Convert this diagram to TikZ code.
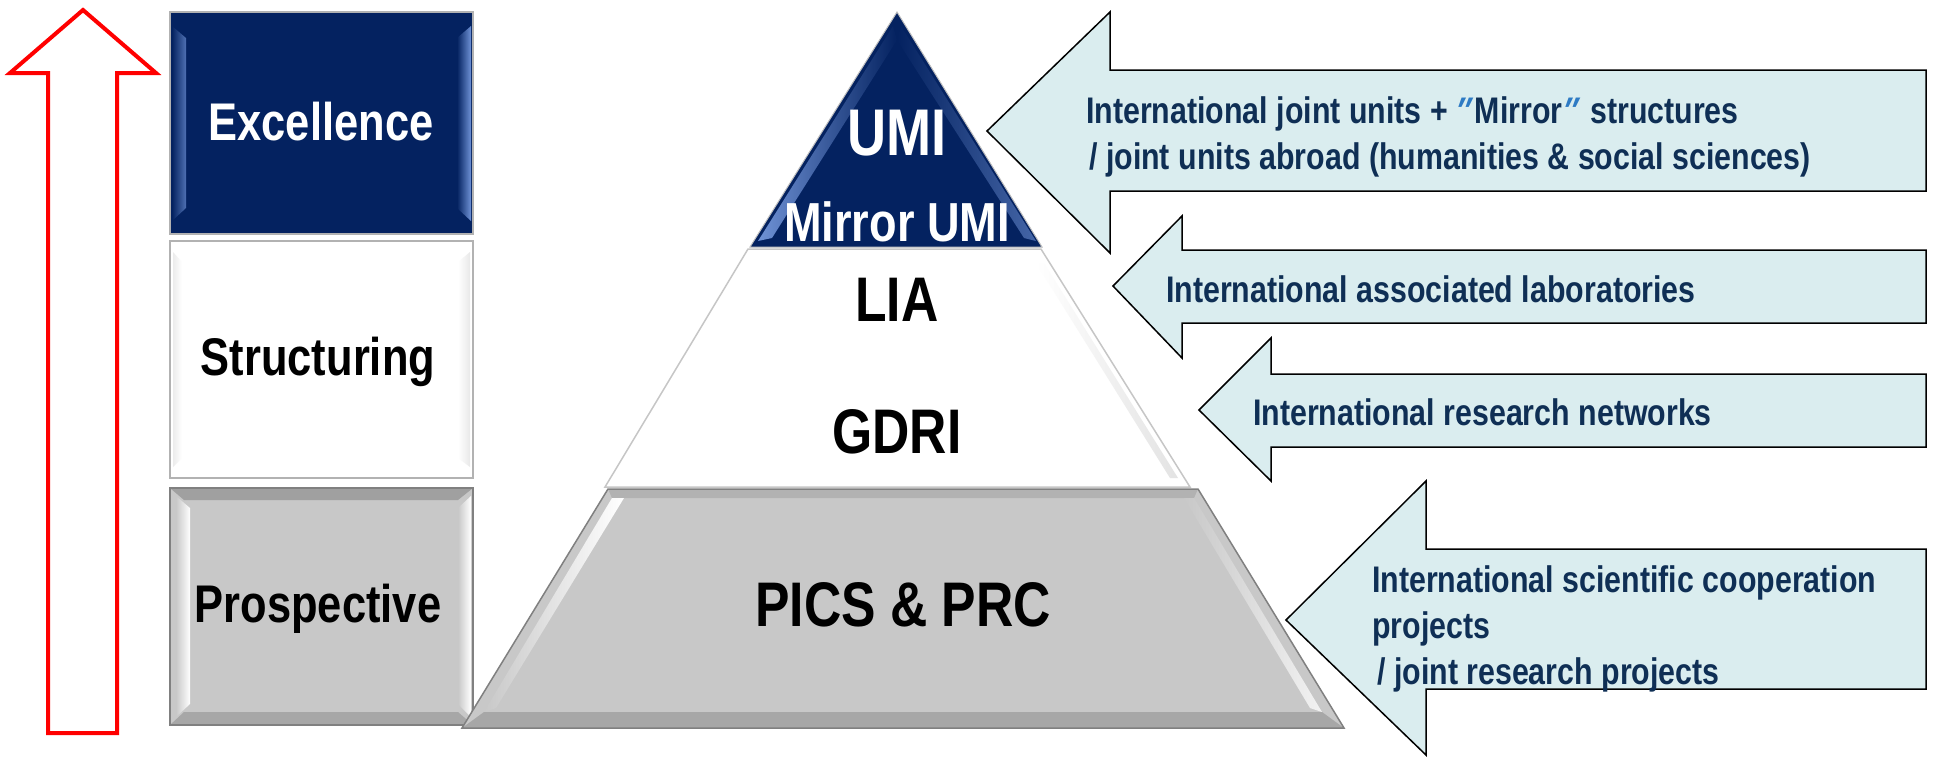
\documentclass[tikz,border=0pt]{standalone}
\usepackage{fontspec}
\setmainfont[FakeStretch=0.82]{Liberation Sans}
\definecolor{umiblue}{HTML}{042260}
\definecolor{umilight}{HTML}{6F92D6}
\definecolor{boxgray}{HTML}{C8C8C8}
\definecolor{arrowfill}{HTML}{DAEDEF}
\definecolor{txtnavy}{HTML}{0F2F55}
\definecolor{quoteblue}{HTML}{2E7BC4}
\newcommand{\dquote}{{\hspace{-7pt}\color{quoteblue}\addfontfeature{FakeSlant=0.25}″\hspace{7pt}}}

\begin{document}
\begin{tikzpicture}[x=1pt,y=-1pt,
    lbl/.style={font=\bfseries\fontsize{53}{60}\selectfont, inner sep=0},
    big/.style={font=\bfseries\fontsize{63}{70}\selectfont, inner sep=0},
    arrowtxt/.style={font=\bfseries\fontsize{37}{46}\selectfont, text=txtnavy, align=left, anchor=west, inner sep=0},
    bluearrow/.style={fill=arrowfill, draw=black, line width=1.5pt, line join=miter},
    edge/.style={draw=gray!60, line width=1.5pt}]
    \useasboundingbox (0,0) rectangle (1935,756);

    % red arrow
    \draw[red, line width=4pt, fill=white, line join=miter] (83,10) -- (156,73) -- (117,73) -- (117,733) -- (48,733) -- (48,73) -- (10,73) -- cycle;

    % left boxes
    \fill[umiblue] (170,12) rectangle (473,234);
        \shade[left color=umiblue, right color=umilight!70!umiblue] (172,26) -- (186,38) -- (186,208) -- (172,221) -- cycle;
        \shade[left color=umiblue, right color=umilight] (457,38) -- (471,26) -- (471,221) -- (457,208) -- cycle;
    \draw[edge] (170,12) rectangle (473,234);
    \node[lbl, text=white] (excel) at (321,122) {Excellence};

    \fill[white] (170,241) rectangle (473,478);
        \shade[left color=gray!15, right color=white] (173,252) -- (182,262) -- (182,458) -- (173,467) -- cycle;
        \shade[left color=white, right color=gray!18] (458,262) -- (470,252) -- (470,467) -- (458,458) -- cycle;
    \draw[edge] (170,241) rectangle (473,478);
    \node[lbl] (struct) at (318,362) {Structuring};

    \fill[boxgray] (170,488) rectangle (473,725);
        \fill[gray!55!boxgray] (170,488) -- (473,488) -- (458,500) -- (184,500) -- cycle;
        \fill[gray!45!boxgray] (170,725) -- (473,725) -- (458,712) -- (184,712) -- cycle;
        \shade[left color=boxgray, right color=white] (176,496) -- (190,508) -- (190,704) -- (176,717) -- cycle;
        \shade[left color=boxgray, right color=white] (458,508) -- (471,496) -- (471,717) -- (458,704) -- cycle;
    \draw[draw=gray, line width=1.5pt] (170,488) rectangle (473,725);
    \node[lbl] (prosp) at (318,609) {Prospective};

    % pyramid
    \fill[boxgray] (608,489) -- (1198,489) -- (1344,728) -- (462,728) -- cycle;
        \fill[gray!45!boxgray] (462,728) -- (1344,728) -- (1322,712) -- (484,712) -- cycle;
        \fill[gray!30!boxgray] (608,489) -- (1198,489) -- (1194,498) -- (612,498) -- cycle;
        \shade[left color=boxgray, right color=white] (612,498) -- (624,498) -- (496,708) -- (484,712) -- cycle;
        \shade[left color=boxgray, right color=white!90!gray] (1184,498) -- (1194,498) -- (1322,712) -- (1310,708) -- cycle;
    \draw[draw=gray, line width=1.5pt] (608,489) -- (1198,489) -- (1344,728) -- (462,728) -- cycle;
    \node[big] (pics) at (903,605) {PICS \& PRC};

    \fill[white] (748,249) -- (1041,249) -- (1190,487) -- (605,487) -- cycle;
        \shade[left color=white, right color=gray!22] (1036,263) -- (1044,263) -- (1178,478) -- (1170,478) -- cycle;
    \draw[draw=gray!45, line width=1.5pt] (748,249) -- (1041,249) -- (1190,487) -- (605,487) -- cycle;
    \node[big] (lia) at (897,300) {LIA};
    \node[big] (gdri) at (897,432) {GDRI};

    \fill[umiblue] (897,12) -- (1042,247) -- (750,247) -- cycle;
        \shade[left color=umilight, right color=umiblue] (893,26) -- (897,40) -- (772,238) -- (758,241) -- cycle;
        \shade[left color=umiblue, right color=umilight!60!umiblue] (901,26) -- (1036,241) -- (1024,238) -- (897,40) -- cycle;
    \draw[draw=gray!50, line width=1pt] (897,12) -- (1042,247) -- (750,247) -- cycle;
    \node[font=\bfseries\fontsize{66}{72}\selectfont, inner sep=0, text=white] (umi) at (897,133) {UMI};
    \node[font=\bfseries\fontsize{55}{60}\selectfont, inner sep=0, text=white] (mirror) at (897,222) {Mirror UMI};

    % arrows on the right
    \draw[bluearrow] (987,131) -- (1110,12) -- (1110,70) -- (1926,70) -- (1926,191) -- (1110,191) -- (1110,253) -- cycle;
    \draw[bluearrow] (1113,286) -- (1182,216) -- (1182,250) -- (1926,250) -- (1926,323) -- (1182,323) -- (1182,358) -- cycle;
    \draw[bluearrow] (1199,410) -- (1271,338) -- (1271,374) -- (1926,374) -- (1926,447) -- (1271,447) -- (1271,481) -- cycle;
    \draw[bluearrow] (1286,620) -- (1426,481) -- (1426,549) -- (1926,549) -- (1926,689) -- (1426,689) -- (1426,755) -- cycle;

    \node[arrowtxt] (txtumi) at (1086,137) {International joint units + \hspace{4pt}\dquote Mirror\hspace{5pt}\dquote\ structures\\\hspace*{3pt}/ joint units abroad (humanities \& social sciences)};
    \node[arrowtxt] (txtlia) at (1166,289) {International associated laboratories};
    \node[arrowtxt] (txtgdri) at (1253,412) {International research networks};
    \node[arrowtxt] (txtpics) at (1372,629) {International scientific cooperation\\projects\\\hspace*{5pt}/ joint research projects};
\end{tikzpicture}
\end{document}
